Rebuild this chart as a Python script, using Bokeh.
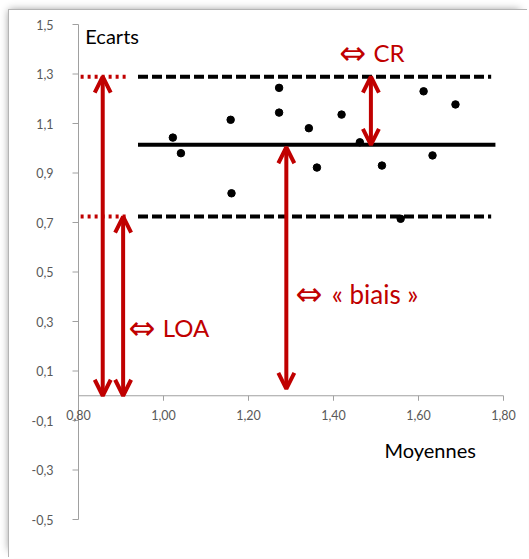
from bokeh.plotting import figure
from bokeh.models import Range1d, Arrow, OpenHead, ColumnDataSource
from bokeh.core.properties import value
from bokeh.embed import file_html
from bokeh.resources import INLINE

# ---- data ----
moyennes = [1.022, 1.041, 1.158, 1.160, 1.272, 1.272, 1.342, 1.419, 1.462,
            1.361, 1.514, 1.558, 1.612, 1.687, 1.633]
ecarts = [1.043, 0.980, 1.115, 0.818, 1.244, 1.144, 1.081, 1.136, 1.024,
          0.922, 0.930, 0.715, 1.230, 1.177, 0.971]

biais = 1.014
loa_sup = 1.289
loa_inf = 0.724
lines_x0 = 0.94
biais_x1 = 1.781
loa_x1 = 1.771
ext_x0 = 0.805
ext_x1 = 0.913

x_min, x_max = 0.8, 1.8
y_min, y_max = -0.5, 1.5
x_ticks = [0.8, 1.0, 1.2, 1.4, 1.6, 1.8]
x_tick_labels = ["0,80", "1,00", "1,20", "1,40", "1,60", "1,80"]
y_ticks = [-0.5, -0.3, -0.1, 0.1, 0.3, 0.5, 0.7, 0.9, 1.1, 1.3, 1.5]
y_tick_labels = ["-0,5", "-0,3", "-0,1", "0,1", "0,3", "0,5", "0,7", "0,9", "1,1", "1,3", "1,5"]

arrow_x = [0.857, 0.905, 1.488, 1.289]
arrow_y0 = [0.0, 0.0, 1.014, 0.028]
arrow_y1 = [1.289, 0.724, 1.289, 1.004]

note_symbol = ["\u21d4", "\u21d4", "\u21d4"]
note_text = ["CR", "\u00ab biais \u00bb", "LOA"]
note_x = [1.414, 1.311, 0.918]
note_y = [1.386, 0.410, 0.275]
note_offset = [34, 36, 34]
note_size = ["24px", "26px", "24px"]

axis_titles = ["Ecarts", "Moyennes"]
axis_title_x = [0.816, 1.520]
axis_title_y = [1.452, -0.218]

# ---- layout (pixels) ----
RED = "#C00000"
AXIS = "#a0a0a0"
FONT = "Lato"
W, H = 519, 548
LEFT, TOP = 69, 14          # where x_min / y_max sit inside the canvas
PXU_X, PXU_Y = 425.0, 247.5  # pixels per data unit

x_lo = x_min - LEFT / PXU_X
y_hi = y_max + TOP / PXU_Y
p = figure(width=W, height=H, output_backend="svg", toolbar_location=None,
           x_range=Range1d(x_lo, x_lo + W / PXU_X), y_range=Range1d(y_hi - H / PXU_Y, y_hi),
           x_axis_location=None, y_axis_location=None,
           min_border=0, min_border_left=0, min_border_right=0, min_border_top=0, min_border_bottom=0)
p.margin = (10, 0, 0, 9)
p.background_fill_color = "white"
p.border_fill_color = "white"
p.outline_line_color = None
p.grid.visible = False
p.styles = {"box-shadow": "-1px -1px 0 0 #b4b4b4, -4px -4px 8px -4px rgba(0,0,0,0.45)"}

# ---- axes drawn as glyphs ----
ytick_len = 6 / PXU_X
xtick_len = 5 / PXU_Y
p.segment(x0=[x_min], y0=[y_min], x1=[x_min], y1=[y_max], line_color=AXIS, line_width=1)
p.segment(x0=[x_min], y0=[0], x1=[x_max], y1=[0], line_color=AXIS, line_width=1)
p.segment(x0=[x_min - ytick_len] * len(y_ticks), y0=y_ticks, x1=[x_min] * len(y_ticks), y1=y_ticks,
          line_color=AXIS, line_width=1)
p.segment(x0=x_ticks, y0=[0] * len(x_ticks), x1=x_ticks, y1=[-xtick_len] * len(x_ticks),
          line_color=AXIS, line_width=1)
p.text(x=[x_min] * len(y_ticks), y=y_ticks, text=y_tick_labels, x_offset=-25,
       text_align="right", text_baseline="middle", text_color="#595959",
       text_font=value(FONT), text_font_size=value("12.5px"))
p.text(x=x_ticks, y=[0] * len(x_ticks), text=x_tick_labels, y_offset=14,
       text_align="center", text_baseline="top", text_color="#595959",
       text_font=value(FONT), text_font_size=value("12.5px"))

# ---- reference lines ----
p.segment(x0=[lines_x0], y0=[biais], x1=[biais_x1], y1=[biais], line_color="black", line_width=4)
p.segment(x0=[lines_x0, lines_x0], y0=[loa_sup, loa_inf], x1=[loa_x1, loa_x1], y1=[loa_sup, loa_inf],
          line_color="black", line_width=4, line_dash="10 4")
p.segment(x0=[ext_x0, ext_x0], y0=[loa_sup, loa_inf], x1=[ext_x1, ext_x1], y1=[loa_sup, loa_inf],
          line_color=RED, line_width=4, line_dash="3 4")

# ---- points ----
p.scatter(moyennes, ecarts, size=7.5, color="black")

# ---- arrows ----
src = ColumnDataSource(dict(x0=arrow_x, y0=arrow_y0, x1=arrow_x, y1=arrow_y1))
p.add_layout(Arrow(x_start="x0", y_start="y0", x_end="x1", y_end="y1", source=src,
                   line_color=RED, line_width=4,
                   start=OpenHead(size=16, line_color=RED, line_width=4),
                   end=OpenHead(size=16, line_color=RED, line_width=4)))

# ---- annotations ----
notes = ColumnDataSource(dict(x=note_x, y=note_y, sym=note_symbol, txt=note_text,
                              off=note_offset, size=note_size))
p.text(x="x", y="y", text="sym", source=notes, text_color=RED, text_font=value("DejaVu Sans"),
       text_font_size=value("32px"), text_baseline="middle", text_align="left")
p.text(x="x", y="y", text="txt", x_offset="off", source=notes, text_color=RED,
       text_font=value(FONT), text_font_size="size", text_baseline="middle",
       text_align="left")
p.text(x=axis_title_x, y=axis_title_y, text=axis_titles, text_color="black", text_font=value(FONT),
       text_font_size=value("20px"), text_baseline="middle", text_align="left")

open("out.html", "w").write(file_html(p, INLINE))
